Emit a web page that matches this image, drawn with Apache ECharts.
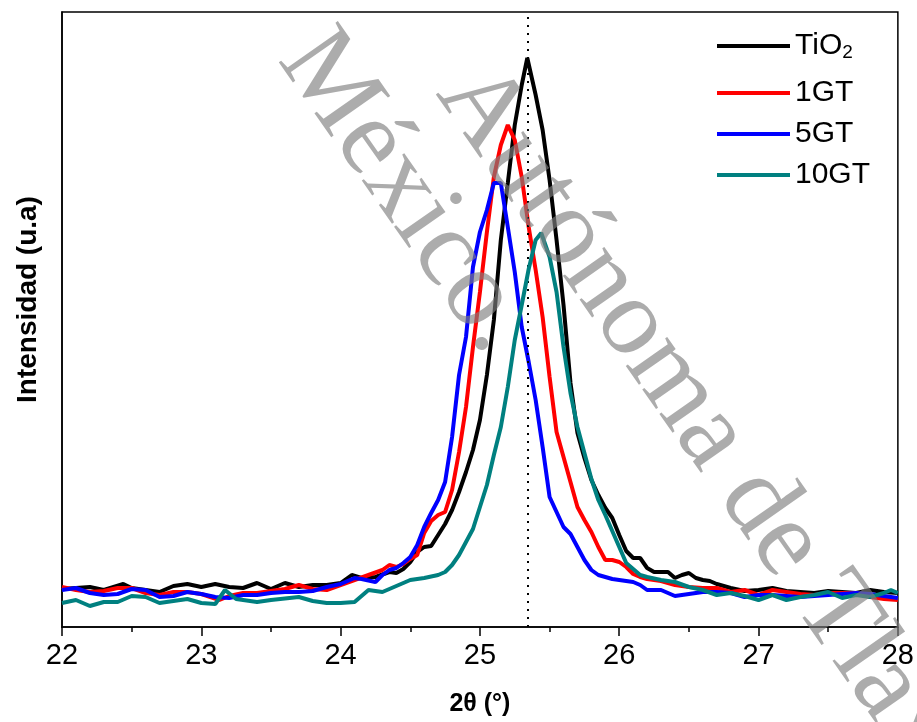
<!DOCTYPE html>
<html><head><meta charset="utf-8">
<script src="https://cdn.jsdelivr.net/npm/echarts@6/dist/echarts.min.js"></script>
<style>html,body{margin:0;padding:0;background:#fff}#c{width:917px;height:722px}</style>
</head><body><div id="c"></div>
<script>
const xMin = 22, xMax = 28, xStep = 1;
const refLine = 25.34;
const seriesNames = ['TiO2', '1GT', '5GT', '10GT'];
const seriesColors = ['#000000', '#ff0000', '#0000ff', '#008080'];

const tio2 = [[22.00,38],[22.10,39],[22.20,40],[22.30,37],[22.44,43],[22.50,39],[22.60,37],[22.70,35],[22.80,41],[22.90,43],[23.00,40],[23.10,43],[23.20,40],[23.30,39],[23.40,44],[23.50,38],[23.60,44],[23.70,40],[23.80,42],[23.90,42],[24.00,44],[24.08,52],[24.15,49],[24.25,50],[24.35,55],[24.40,54],[24.45,58],[24.50,65],[24.55,75],[24.60,80],[24.65,81],[24.70,92],[24.75,103],[24.80,117],[24.85,135],[24.90,155],[24.95,177],[25.00,207],[25.05,252],[25.10,307],[25.15,387],[25.20,444],[25.25,502],[25.30,542],[25.34,569],[25.40,532],[25.45,497],[25.50,447],[25.55,387],[25.60,322],[25.65,244],[25.70,194],[25.75,169],[25.80,147],[25.85,132],[25.90,119],[25.95,109],[26.00,92],[26.05,76],[26.10,69],[26.15,69],[26.20,59],[26.25,55],[26.30,55],[26.35,55],[26.40,49],[26.45,52],[26.50,54],[26.55,49],[26.60,47],[26.65,46],[26.70,43],[26.80,39],[26.90,36],[27.00,37],[27.10,39],[27.20,36],[27.30,35],[27.40,34],[27.50,36],[27.60,35],[27.70,34],[27.80,37],[27.90,35],[28.00,34]];

const gt1 = [[22.00,40],[22.10,37],[22.20,35],[22.30,36],[22.40,39],[22.50,39],[22.60,34],[22.70,32],[22.80,35],[22.90,35],[23.00,33],[23.13,27],[23.20,31],[23.30,34],[23.40,34],[23.50,36],[23.60,38],[23.70,42],[23.80,38],[23.90,37],[24.00,42],[24.10,47],[24.20,52],[24.30,57],[24.35,62],[24.40,60],[24.45,63],[24.50,68],[24.55,72],[24.60,94],[24.65,106],[24.70,112],[24.75,115],[24.80,137],[24.85,175],[24.90,220],[24.95,280],[25.00,335],[25.05,395],[25.10,450],[25.15,482],[25.20,502],[25.25,487],[25.30,450],[25.35,400],[25.40,357],[25.45,310],[25.50,250],[25.55,195],[25.60,170],[25.65,145],[25.70,120],[25.75,107],[25.80,95],[25.85,80],[25.90,67],[25.95,67],[26.00,65],[26.05,60],[26.10,53],[26.15,50],[26.20,48],[26.30,46],[26.40,42],[26.50,40],[26.60,39],[26.70,39],[26.80,35],[26.90,37],[27.00,32],[27.10,37],[27.20,35],[27.30,33],[27.40,32],[27.50,34],[27.60,34],[27.70,34],[27.80,30],[27.90,28],[28.00,27]];

const gt5 = [[22.00,37],[22.10,39],[22.20,34],[22.30,32],[22.40,33],[22.50,38],[22.60,37],[22.70,30],[22.80,31],[22.90,35],[23.00,33],[23.10,30],[23.20,29],[23.30,32],[23.40,32],[23.50,34],[23.60,35],[23.70,35],[23.80,36],[23.90,40],[24.00,43],[24.10,49],[24.15,48],[24.25,45],[24.30,52],[24.35,57],[24.40,59],[24.45,64],[24.50,70],[24.55,82],[24.60,100],[24.65,114],[24.70,127],[24.75,145],[24.80,190],[24.85,252],[24.90,290],[24.95,360],[25.00,395],[25.05,417],[25.10,444],[25.15,444],[25.20,400],[25.25,355],[25.30,300],[25.35,265],[25.40,227],[25.45,180],[25.50,130],[25.55,115],[25.60,100],[25.65,93],[25.70,80],[25.75,67],[25.80,57],[25.85,52],[25.90,50],[25.95,48],[26.00,47],[26.10,45],[26.15,42],[26.20,37],[26.30,37],[26.40,31],[26.50,33],[26.60,35],[26.70,35],[26.80,34],[26.90,30],[27.00,32],[27.10,32],[27.20,31],[27.30,30],[27.50,32],[27.70,34],[27.80,33],[27.90,31],[28.00,29]];

const gt10 = [[22.00,24],[22.10,27],[22.20,21],[22.30,25],[22.40,25],[22.50,31],[22.60,30],[22.70,24],[22.80,26],[22.90,28],[23.00,24],[23.10,23],[23.17,37],[23.25,28],[23.40,25],[23.50,27],[23.70,30],[23.80,26],[23.90,24],[24.00,24],[24.10,25],[24.20,37],[24.30,35],[24.45,44],[24.50,47],[24.60,49],[24.70,52],[24.75,55],[24.80,62],[24.85,72],[24.90,85],[24.95,98],[25.00,120],[25.05,142],[25.10,172],[25.15,200],[25.20,240],[25.25,287],[25.30,322],[25.35,358],[25.40,387],[25.44,394],[25.50,370],[25.55,335],[25.60,280],[25.65,234],[25.70,200],[25.75,174],[25.80,148],[25.85,127],[25.90,112],[25.95,96],[26.00,80],[26.05,64],[26.10,58],[26.15,52],[26.20,50],[26.30,47],[26.40,45],[26.50,40],[26.60,37],[26.70,32],[26.80,34],[26.90,31],[27.00,27],[27.10,32],[27.20,27],[27.30,30],[27.40,32],[27.50,35],[27.60,29],[27.70,32],[27.80,30],[27.90,34],[27.95,37],[28.00,34]];

const allData = [tio2, gt1, gt5, gt10];
const sans = '"Liberation Sans", Arial, sans-serif';
const serif = '"Liberation Serif", "Times New Roman", serif';
const wmFill = 'rgba(128,128,128,0.65)';
const rot = -55 * Math.PI / 180;

const legendBase = {
  orient: 'vertical', left: 717, padding: 0, itemWidth: 73, itemHeight: 4, itemGap: 9, icon: 'rect',
  formatter: n => n === 'TiO2' ? 'TiO{sub|2}' : n,
  textStyle: { color: '#000', fontSize: 30, fontFamily: sans, lineHeight: 32,
    rich: { sub: { fontSize: 19, fontFamily: sans, color: '#000', verticalAlign: 'bottom', lineHeight: 10 } } }
};

const chart = echarts.init(document.getElementById('c'));
chart.setOption({
  animation: false,
  backgroundColor: '#fff',
  grid: { left: 62, right: 16, top: 12, bottom: 95, show: true, borderColor: '#000', borderWidth: 1.5, backgroundColor: 'transparent' },
  xAxis: {
    type: 'value', min: xMin, max: xMax, interval: xStep,
    axisLine: { show: true, onZero: false, lineStyle: { color: '#000', width: 1.5 } },
    axisTick: { show: true, inside: false, length: 9, lineStyle: { color: '#000', width: 1.5 } },
    minorTick: { show: true, splitNumber: 2, length: 5, lineStyle: { color: '#000', width: 1.5 } },
    splitLine: { show: false },
    axisLabel: { color: '#000', fontSize: 29, fontFamily: sans, margin: 14 },
    name: '2θ (°)', nameLocation: 'middle', nameGap: 65,
    nameTextStyle: { color: '#000', fontSize: 25, fontWeight: 'bold', fontFamily: sans }
  },
  yAxis: {
    type: 'value', min: 0, max: 615,
    axisLine: { show: true, lineStyle: { color: '#000', width: 1.5 } },
    axisTick: { show: false }, axisLabel: { show: false }, splitLine: { show: false },
    name: 'Intensidad (u.a)', nameLocation: 'middle', nameGap: 20,
    nameTextStyle: { color: '#000', fontSize: 28, fontWeight: 'bold', fontFamily: sans, padding: [0, 0, 0, 40] }
  },
  legend: [
    Object.assign({}, legendBase, { top: 30, data: ['TiO2'] }),
    Object.assign({}, legendBase, { top: 77, data: ['1GT', '5GT', '10GT'] })
  ],
  series: seriesNames.map((n, i) => ({
    name: n, type: 'line', data: allData[i], symbol: 'none', smooth: false,
    lineStyle: { color: seriesColors[i], width: 4 }, itemStyle: { color: seriesColors[i] },
    z: 2 + i,
    markLine: i === 0 ? { silent: true, symbol: 'none', label: { show: false },
      lineStyle: { color: '#000', type: [2, 6], width: 2 }, data: [{ xAxis: refLine }] } : undefined
  })),
  graphic: [
    { type: 'text', x: 459, y: 77, rotation: rot, z: 100, silent: true,
      style: { text: 'Autónoma de Tlaxcala', fontSize: 110, fontFamily: serif, fill: wmFill, align: 'left', verticalAlign: 'middle' } },
    { type: 'text', x: 405, y: 192, rotation: rot, z: 100, silent: true,
      style: { text: 'México.', fontSize: 110, fontFamily: serif, fill: wmFill, align: 'center', verticalAlign: 'middle' } }
  ]
});
</script></body></html>
